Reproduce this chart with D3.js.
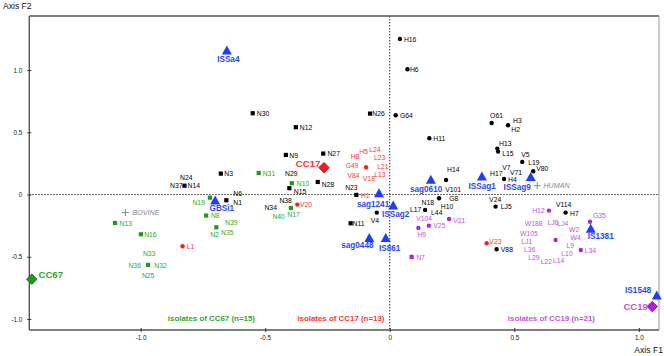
<!DOCTYPE html>
<html><head><meta charset="utf-8">
<script src="https://cdn.jsdelivr.net/npm/d3@7"></script>
<style>
body{margin:0;background:#fff}
svg{display:block}
text{font-family:"Liberation Sans",Arial,sans-serif}
</style>
</head><body>
<svg id="c" width="664" height="356"></svg>
<script>
// ---------- DATA (correspondence analysis coordinates, axis F1 / F2) ----------
const xTicks = [-1.0, -0.5, 0, 0.5, 1.0];
const yTicks = [-1.0, -0.5, 0, 0.5, 1.0];
const tickLabels = {"-1":"-1.0","-0.5":"-0.5","0":"0","0.5":"0.5","1":"1.0"};

// black squares / dots : isolates not in CC67/CC17/CC19
const blackSquares = [
  ["N30",-0.550,0.653],["N12",-0.377,0.541],["N9",-0.417,0.318],["N27",-0.267,0.329],
  ["N3",-0.678,0.168],["N37",-0.824,0.071],["N1",-0.656,-0.046],["N28",-0.289,0.101],
  ["N15",-0.403,0.051],["N26",-0.079,0.650],["N23",-0.134,-0.003],["N11",-0.157,-0.231]
];
const blackDots = [
  ["H16",0.041,1.250],["H6",0.071,1.006],["G64",0.024,0.637],["H11",0.159,0.452],
  ["O61",0.409,0.575],["H3",0.475,0.557],["H13",0.432,0.369],["L15",0.435,0.345],
  ["L19",0.532,0.262],["V80",0.576,0.187],["H4",0.459,0.125],["H14",0.226,0.117],
  ["G8",0.198,-0.030],["L17",0.142,-0.124],["V4",-0.052,-0.145],["LJ5",0.425,-0.097],
  ["H7",0.706,-0.145],["V88",0.429,-0.439]
];
const greenSquares = [
  ["N13",-1.103,-0.228],["N16",-0.999,-0.319],["N31",-0.526,0.173],["N10",-0.393,0.091],
  ["N19",-0.722,-0.025],["N8",-0.737,-0.169],["N35",-0.696,-0.263],["N17",-0.397,-0.108],
  ["N36",-0.970,-0.565]
];
const redDots = [["H8",-0.095,0.219],["V20",-0.371,-0.081],["L1",-0.832,-0.415],["V23",0.389,-0.391]];
const purpleDots = [
  ["V25",0.157,-0.250],["H9",0.115,-0.268],["V21",0.238,-0.196],["H12",0.639,-0.129],
  ["G35",0.804,-0.218],["W4",0.666,-0.365],["L34",0.767,-0.445]
];
const purpleSquares = [["N7",0.088,-0.501]];
const referenceStrains = [
  ["ISSa4",-0.654,1.161],["GBSi1",-0.701,-0.043],["sag1241",-0.043,0.015],["ISSag2",0.014,-0.084],
  ["sag0610",0.165,0.123],["ISSag1",0.370,0.149],["ISSag9",0.566,0.144],["sag0448",-0.082,-0.346],
  ["IS861",-0.016,-0.346],["IS1381",0.807,-0.271],["IS1548",1.072,-0.806]
];
const complexes = [["CC67",-1.437,-0.680,"green"],["CC17",-0.264,0.216,"red"],["CC19",1.054,-0.900,"purple"]];
const hosts = [["BOVINE",-1.061,-0.145],["HUMAN",0.592,0.071]];

// label positions (text start, middle) in axis units
const blackLabels = [
  ["N30",-0.534,0.653],["N12",-0.361,0.535],["N9",-0.403,0.314],["N27",-0.250,0.330],
  ["N3",-0.664,0.165],["N24",-0.842,0.139],["N37",-0.882,0.069],["N14",-0.812,0.069],
  ["N6",-0.628,0.010],["N1",-0.628,-0.062],["N29",-0.420,0.168],["N15",-0.385,0.027],
  ["N28",-0.273,0.080],["N38",-0.443,-0.049],["N34",-0.503,-0.105],["N26",-0.070,0.647],
  ["N23",-0.179,0.055],["N11",-0.149,-0.234],["H16",0.057,1.247],["H6",0.081,1.001],
  ["G64",0.041,0.631],["H11",0.175,0.449],["O61",0.403,0.634],["H3",0.495,0.597],
  ["H2",0.488,0.521],["H13",0.439,0.406],["L15",0.452,0.332],["V5",0.528,0.320],
  ["L19",0.556,0.256],["V80",0.588,0.208],["V7",0.452,0.216],["V71",0.483,0.179],
  ["H17",0.403,0.168],["H4",0.475,0.117],["H14",0.230,0.203],["V101",0.223,0.037],
  ["G8",0.239,-0.035],["N18",0.128,-0.065],["H10",0.205,-0.094],["L17",0.081,-0.124],
  ["L44",0.166,-0.142],["V4",-0.076,-0.212],["V24",0.399,-0.041],["LJ5",0.446,-0.100],
  ["V114",0.667,-0.084],["H7",0.724,-0.150],["V88",0.446,-0.443]
];
const redLabels = [
  ["H5",-0.122,0.345],["L24",-0.082,0.364],["H8",-0.157,0.302],["L23",-0.063,0.294],
  ["G49",-0.177,0.235],["L21",-0.050,0.224],["V84",-0.170,0.149],["V18",-0.108,0.131],
  ["L13",-0.062,0.157],["H1",-0.116,-0.011],["V20",-0.360,-0.081],["L1",-0.815,-0.421],
  ["V23",0.400,-0.378]
];
const greenLabels = [
  ["N13",-1.085,-0.231],["N16",-0.986,-0.324],["N31",-0.510,0.165],["N10",-0.373,0.088],
  ["N19",-0.792,-0.062],["N8",-0.718,-0.172],["N39",-0.661,-0.222],["N2",-0.721,-0.324],
  ["N35",-0.677,-0.303],["N40",-0.471,-0.178],["N17",-0.411,-0.158],["N33",-0.991,-0.477],
  ["N36",-1.049,-0.568],["N32",-0.945,-0.571],["N25",-0.995,-0.648]
];
const purpleLabels = [
  ["V104",0.106,-0.196],["V25",0.175,-0.252],["H9",0.111,-0.324],["V21",0.255,-0.206],
  ["N7",0.106,-0.509],["H12",0.572,-0.129],["G35",0.816,-0.172],["W188",0.542,-0.236],
  ["LJ6",0.633,-0.222],["LJ4",0.673,-0.231],["W2",0.720,-0.279],["W105",0.523,-0.311],
  ["W4",0.726,-0.346],["LJ1",0.528,-0.375],["L36",0.539,-0.439],["L29",0.556,-0.507],
  ["L22",0.606,-0.541],["L14",0.655,-0.531],["L10",0.689,-0.471],["L9",0.710,-0.407],
  ["L34",0.783,-0.447]
];
// reference strain labels (centred)
const blueLabels = [
  ["ISSa4",-0.648,1.081],["GBSi1",-0.674,-0.116],["sag1241",-0.067,-0.076],["ISSag2",0.024,-0.164],
  ["sag0610",0.146,0.037],["ISSag1",0.371,0.063],["ISSag9",0.512,0.053],["sag0448",-0.130,-0.413],
  ["IS861",0.000,-0.431],["IS1381",0.847,-0.338],["IS1548",0.997,-0.769]
];
const complexLabels = [["CC67",-1.410,-0.640,"green"],["CC17",-0.377,0.246,"red"],["CC19",0.938,-0.900,"purple"]];
const hostLabels = [["BOVINE",-1.033,-0.148],["HUMAN",0.617,0.071]];
const captions = [["isolates of CC67 (n=15)",-0.716,-0.999,"green"],
                  ["isolates of CC17 (n=13)",-0.196,-0.999,"red"],
                  ["isolates of CC19 (n=21)",0.649,-0.999,"purple"]];

// ---------- STYLE ----------
const col = {black:"#000", green:"#1f9a1f", red:"#ff1c1c", purple:"#b020dd", blue:"#1f3cff"};
const txt = {black:"#000", green:"#2fa82f", red:"#ff3535", purple:"#c154e6", blue:"#2c48f5"};

const svg = d3.select("#c");
const x = d3.scaleLinear().domain([-1.447, 1.081]).range([29.3, 659]);
const y = d3.scaleLinear().domain([-1.088, 1.434]).range([330, 16]);

// zero lines
svg.append("line").attr("x1",x(0)).attr("x2",x(0)).attr("y1",y.range()[1]).attr("y2",y.range()[0])
  .attr("stroke","#111").attr("stroke-width",0.9).attr("stroke-dasharray","1.4,1.6");
svg.append("line").attr("x1",x.range()[0]).attr("x2",x.range()[1]).attr("y1",y(0)).attr("y2",y(0))
  .attr("stroke","#111").attr("stroke-width",0.9).attr("stroke-dasharray","1.4,1.6");

// frame
const [x0,x1] = x.range(), [yb,yt] = y.range();
svg.append("line").attr("x1",x0).attr("x2",x1).attr("y1",yt).attr("y2",yt).attr("stroke","#555").attr("stroke-width",1.4);
svg.append("line").attr("x1",x0).attr("x2",x0).attr("y1",yt).attr("y2",yb).attr("stroke","#555").attr("stroke-width",1.4);
svg.append("line").attr("x1",x0).attr("x2",x1).attr("y1",yb).attr("y2",yb).attr("stroke","#555").attr("stroke-width",1.4);
svg.append("line").attr("x1",x1).attr("x2",x1).attr("y1",yt).attr("y2",yb).attr("stroke","#999").attr("stroke-width",1);

// axes
const fmt = d => tickLabels[String(d)];
const gx = svg.append("g").attr("transform",`translate(0,${yb})`)
  .call(d3.axisBottom(x).tickValues(xTicks).tickFormat(fmt).tickSize(2).tickPadding(4));
gx.select(".domain").remove();
gx.selectAll(".tick line").attr("y1",-2).attr("y2",2).attr("stroke","#333");
gx.selectAll(".tick text").attr("font-size",6.3).attr("fill","#222").attr("font-family","Liberation Sans, Arial");
const gy = svg.append("g").attr("transform",`translate(${x0},0)`)
  .call(d3.axisLeft(y).tickValues(yTicks).tickFormat(fmt).tickSize(2).tickPadding(5));
gy.select(".domain").remove();
gy.selectAll(".tick line").attr("x1",-2).attr("x2",2).attr("stroke","#333");
gy.selectAll(".tick text").attr("font-size",6.3).attr("fill","#222").attr("font-family","Liberation Sans, Arial");

svg.append("text").attr("x",3).attr("y",6).attr("dominant-baseline","central")
  .attr("font-size",8.6).attr("fill","#111").text("Axis F2");
svg.append("text").attr("x",663).attr("y",350).attr("text-anchor","end").attr("dominant-baseline","central")
  .attr("font-size",8.6).attr("fill","#111").text("Axis F1");

// markers
const sq = 4.2;
function squares(data, c){
  svg.append("g").selectAll("rect").data(data).join("rect")
    .attr("x",d=>x(d[1])-sq/2).attr("y",d=>y(d[2])-sq/2).attr("width",sq).attr("height",sq).attr("fill",c);
}
function dots(data, c){
  svg.append("g").selectAll("circle").data(data).join("circle")
    .attr("cx",d=>x(d[1])).attr("cy",d=>y(d[2])).attr("r",2.2).attr("fill",c);
}
squares(blackSquares, col.black);
dots(blackDots, col.black);
squares(greenSquares, col.green);
dots(redDots, col.red);
dots(purpleDots, col.purple);
squares(purpleSquares, col.purple);

// host crosses
svg.append("g").selectAll("path").data(hosts).join("path")
  .attr("d",d=>{const cx=x(d[1]),cy=y(d[2]);return `M${cx-3.5},${cy}H${cx+3.5}M${cx},${cy-3.5}V${cy+3.5}`;})
  .attr("stroke","#8a8a8a").attr("stroke-width",1).attr("fill","none");

// triangles
const tw = 10, th = 9;
svg.append("g").selectAll("path").data(referenceStrains).join("path")
  .attr("d",d=>{const cx=x(d[1]),cy=y(d[2]);return `M${cx},${cy-th/2}L${cx+tw/2},${cy+th/2}L${cx-tw/2},${cy+th/2}Z`;})
  .attr("fill",col.blue);

// diamonds
const dm = 5.2;
svg.append("g").selectAll("path").data(complexes).join("path")
  .attr("d",d=>{const cx=x(d[1]),cy=y(d[2]);return `M${cx},${cy-dm}L${cx+dm},${cy}L${cx},${cy+dm}L${cx-dm},${cy}Z`;})
  .attr("fill",d=>col[d[3]]).attr("stroke",d=>d3.color(col[d[3]]).darker(1.2)).attr("stroke-width",0.9);

// labels
function labels(data, c, size, opts={}){
  svg.append("g").selectAll("text").data(data).join("text")
    .attr("x",d=>x(d[1])).attr("y",d=>y(d[2])).attr("dominant-baseline","central")
    .attr("text-anchor",opts.anchor||"start")
    .attr("font-size",size).attr("font-weight",opts.bold?"bold":"normal")
    .attr("font-style",opts.italic?"italic":"normal")
    .attr("fill",d=>d[3]?txt[d[3]]:c).text(d=>d[0]);
}
labels(blackLabels, txt.black, 6.8);
labels(redLabels, txt.red, 6.8);
labels(greenLabels, txt.green, 6.8);
labels(purpleLabels, txt.purple, 6.8);
labels(blueLabels, txt.blue, 8.2, {anchor:"middle", bold:true});
labels(complexLabels, null, 9.6, {bold:true});
labels(hostLabels, "#8a8a8a", 7.2, {italic:true});
labels(captions, null, 7.9, {anchor:"middle", bold:true});
</script>
</body></html>
